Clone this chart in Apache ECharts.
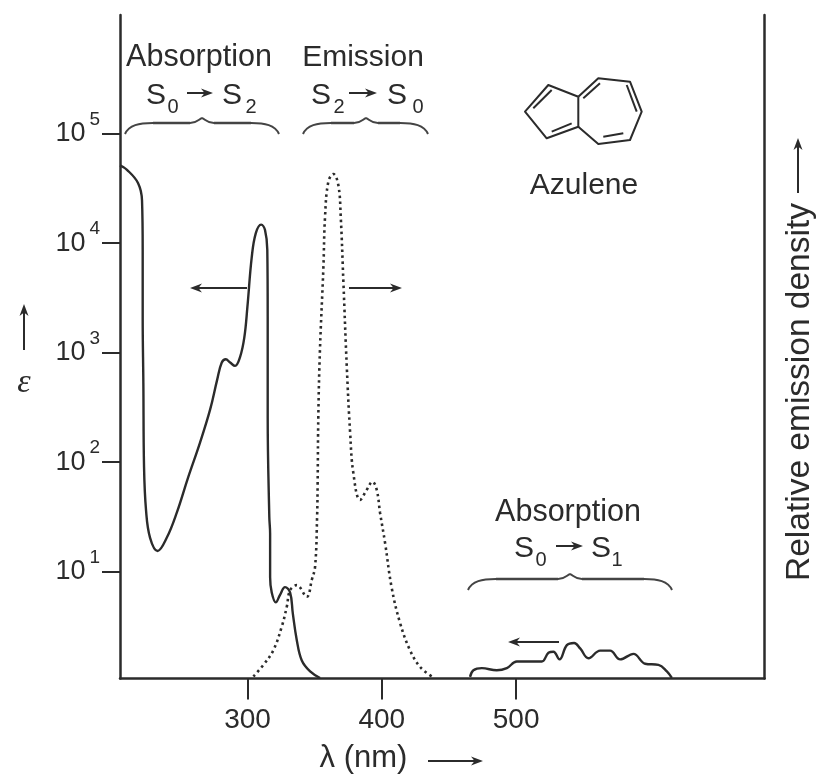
<!DOCTYPE html>
<html>
<head>
<meta charset="utf-8">
<style>html,body{margin:0;padding:0;background:#fff}#c{width:819px;height:776px;filter:blur(0.6px)}</style>
<script src="https://cdn.jsdelivr.net/npm/echarts@6/dist/echarts.min.js"></script>
</head>
<body>
<div id="c"></div>
<script>
// S0 -> S2 absorption: wavelength (nm), log10(epsilon)
const absS2Nm  = [205,210.2,218.4,221.4,221.9,221.9,222.4,222.9,224.4,227.4,233,239.8,247.3,255.7,264.6,272.1,277.3,280.8,283.8,287,290.7,294.4,297.6,299.9,303.1,306.1,310.1,313,314.7,315,315,316.2,316.8,316.8,318,321,324.2,327.9,331.7,333.7,336.6,340.4,346.6,354];
const absS2Log = [4.71,4.67,4.55,4.39,3.94,3.33,2.72,1.96,1.56,1.31,1.19,1.31,1.54,1.86,2.18,2.48,2.75,2.91,2.94,2.91,2.88,2.96,3.14,3.42,3.87,4.09,4.17,4.12,3.94,3.33,2.41,1.5,1.35,0.95,0.81,0.72,0.79,0.86,0.81,0.62,0.38,0.19,0.09,0.03];
// S0 -> S1 absorption: wavelength (nm), log10(epsilon)
const absS1Nm  = [465.7,468.2,474.5,485.6,493.1,500.5,510.4,519.1,524.1,527.8,532.3,537.8,543.2,547.7,553.9,562.6,570,577.5,587.4,596.1,606,612.3,616];
const absS1Log = [0.04,0.10,0.12,0.10,0.12,0.18,0.18,0.18,0.26,0.27,0.20,0.33,0.35,0.30,0.21,0.28,0.28,0.20,0.25,0.16,0.15,0.09,0.03];
// S2 -> S0 emission: wavelength (nm), relative emission density (peak = 100)
const emisNm  = [304.3,311.8,319.2,325.5,329.2,331.7,336.6,344.1,347.8,350.3,351.8,352.2,352.7,353.9,356.5,357.7,360.2,363.9,367.6,369.4,371.4,373.9,376.4,378.8,383.8,388.8,393,396.2,398.7,402.4,407.4,413.6,421,428.5,437.2];
const emisRel = [0.4,2.7,5.6,10.3,14.2,17.5,18.5,16.2,19.5,22.2,32.1,38.8,52,65,81.6,91.5,98.5,100,97.8,91.5,78.4,61.8,48.7,40.7,35.4,37.4,39,37.4,32.8,26.9,17.9,11,5.6,2.3,0.4];
const xTicks = [300,400,500];
const yTicks = [10,100,1000,10000,100000];

const INK = '#2b2b2b';
const FONT = '"Liberation Sans", Arial, sans-serif';
const pair = (a, b, f) => a.map((v, i) => [v, f ? f(b[i]) : b[i]]);
const pow10 = v => Math.pow(10, v);

function txt(x, y, s, size, extra) {
  return {type:'text', x, y, style:Object.assign({text:s, fontSize:size, fontFamily:FONT, fill:INK,
    textAlign:'center', textVerticalAlign:'middle'}, extra||{})};
}
function arrow(x1, y1, x2, y2) {
  const d = Math.hypot(x2-x1, y2-y1), ux = (x2-x1)/d, uy = (y2-y1)/d, L = 12, W = 4.5;
  return [
    {type:'line', shape:{x1, y1, x2:x2-ux*L*0.6, y2:y2-uy*L*0.6}, style:{stroke:INK, lineWidth:2}},
    {type:'polygon', shape:{points:[[x2,y2],[x2-ux*L-uy*W,y2-uy*L+ux*W],[x2-ux*L*0.7,y2-uy*L*0.7],[x2-ux*L+uy*W,y2-uy*L-ux*W]]}, style:{fill:INK}}
  ];
}
function curve(x1,y1,cx1,cy1,cx2,cy2,x2,y2) {
  return {type:'bezierCurve', shape:{x1,y1,x2,y2,cpx1:cx1,cpy1:cy1,cpx2:cx2,cpy2:cy2}, style:{stroke:'#444', lineWidth:2, fill:null}};
}
function brace(x0, xm, x1, yEnd, yMid, yPeak) {
  const l = (a,b) => ({type:'line', shape:{x1:a,y1:yMid,x2:b,y2:yMid}, style:{stroke:'#444', lineWidth:2.5}});
  return [
    curve(x0,yEnd,x0+4,yMid+2,x0+14,yMid,x0+28,yMid), l(x0+28,xm-12),
    curve(xm-12,yMid,xm-5,yMid,xm-3,yPeak+1,xm,yPeak),
    curve(xm,yPeak,xm+3,yPeak+1,xm+5,yMid,xm+12,yMid), l(xm+12,x1-28),
    curve(x1-28,yMid,x1-14,yMid,x1-4,yMid+2,x1,yEnd)
  ];
}
function seg(points, w) {
  return {type:'polyline', shape:{points}, style:{stroke:INK, lineWidth:w||2, fill:null, lineJoin:'round'}};
}
function transition(sx1, sub1, sbx1, ax1, ax2, sx2, sub2, sbx2, y) {
  return [txt(sx1,y,'S',30), txt(sbx1,y+11,sub1,20), txt(sx2,y,'S',30), txt(sbx2,y+11,sub2,20)]
    .concat(arrow(ax1,y-3,ax2,y-3));
}

const annotations = [].concat(
  txt(199,58,'Absorption',30.5), txt(363,58,'Emission',30), txt(568,513,'Absorption',30.5),
  txt(584,186,'Azulene',30),
  transition(156,'0',173,187,213,232,'2',251,96),
  transition(321,'2',339,349,377,397,'0',418,96),
  transition(524,'0',541,556,583,601,'1',617,549),
  brace(125,202,279,134,123,118), brace(303,366,428,134,123,118), brace(468,570,672,590,579,574),
  arrow(247,288,190,288), arrow(349,288,402,288), arrow(559,642,508,642),
  arrow(24,350,24,304), arrow(798,193,798,138), arrow(428,761,483,761),
  txt(24,383,'ε',34,{fontStyle:'italic', fontFamily:'"Liberation Serif", serif'}),
  txt(363.5,758,'λ (nm)',31),
  {type:'text', x:800, y:392, rotation:Math.PI/2, style:{text:'Relative emission density', fontSize:33.5, fontFamily:FONT, fill:INK, textAlign:'center', textVerticalAlign:'middle'}},
  seg([[578.3,96.7],[548.3,85],[525,111.7],[546.7,138.3],[578.3,126.7],[578.3,96.7]]),
  seg([[578.3,96.7],[598.3,78.3],[630,81.7],[641.7,111.7],[630,140],[598.3,144],[578.3,126.7]]),
  seg([[533.3,108.3],[551.7,90]]), seg([[551.7,131.7],[571.7,123.3]]),
  seg([[583.3,98.3],[600,83.3]]), seg([[626.7,85],[636.7,111.7]]), seg([[603.3,136.7],[623.3,133.3]])
);

const chart = echarts.init(document.getElementById('c'), null, {renderer:'canvas'});
chart.setOption({
  animation:false,
  backgroundColor:'#fff',
  grid:{left:120, right:54.5, top:15, bottom:97.5, containLabel:false},
  xAxis:{type:'value', min:205, max:685, splitLine:{show:false},
    axisLine:{lineStyle:{color:INK, width:2.5}, onZero:false},
    axisTick:{length:21, lineStyle:{color:INK, width:2}, customValues:xTicks},
    axisLabel:{fontFamily:FONT, fontSize:28, color:INK, margin:28, customValues:xTicks}},
  yAxis:[
    {type:'log', logBase:10, min:1.06, max:1.213e6, splitLine:{show:false}, minorTick:{show:false},
     axisLine:{show:true, lineStyle:{color:INK, width:2.5}},
     axisTick:{show:true, length:18, lineStyle:{color:INK, width:2}, customValues:yTicks},
     axisLabel:{customValues:yTicks, margin:20, formatter:v => '{b|10}{s|'+Math.round(Math.log10(v))+'}',
       rich:{b:{fontFamily:FONT, fontSize:27, color:INK, lineHeight:47},
             s:{fontFamily:FONT, fontSize:19, color:INK, verticalAlign:'top', lineHeight:19, padding:[0,0,0,4]}}}},
    {type:'value', position:'right', min:0, max:131.5, splitLine:{show:false},
     axisLine:{show:true, lineStyle:{color:INK, width:2.5}}, axisTick:{show:false}, axisLabel:{show:false}}
  ],
  series:[
    {name:'Absorption S0-S2', type:'line', yAxisIndex:0, data:pair(absS2Nm,absS2Log,pow10), showSymbol:false, smooth:0.4, z:3,
     lineStyle:{color:INK, width:2.4}},
    {name:'Absorption S0-S1', type:'line', yAxisIndex:0, data:pair(absS1Nm,absS1Log,pow10), showSymbol:false, smooth:0.4, z:3,
     lineStyle:{color:INK, width:2.4}},
    {name:'Emission S2-S0', type:'line', yAxisIndex:1, data:pair(emisNm,emisRel), showSymbol:false, smooth:0.4, z:2,
     lineStyle:{color:INK, width:2.6, type:[2.5,3.5]}}
  ],
  graphic:{elements:annotations}
});
</script>
</body>
</html>
